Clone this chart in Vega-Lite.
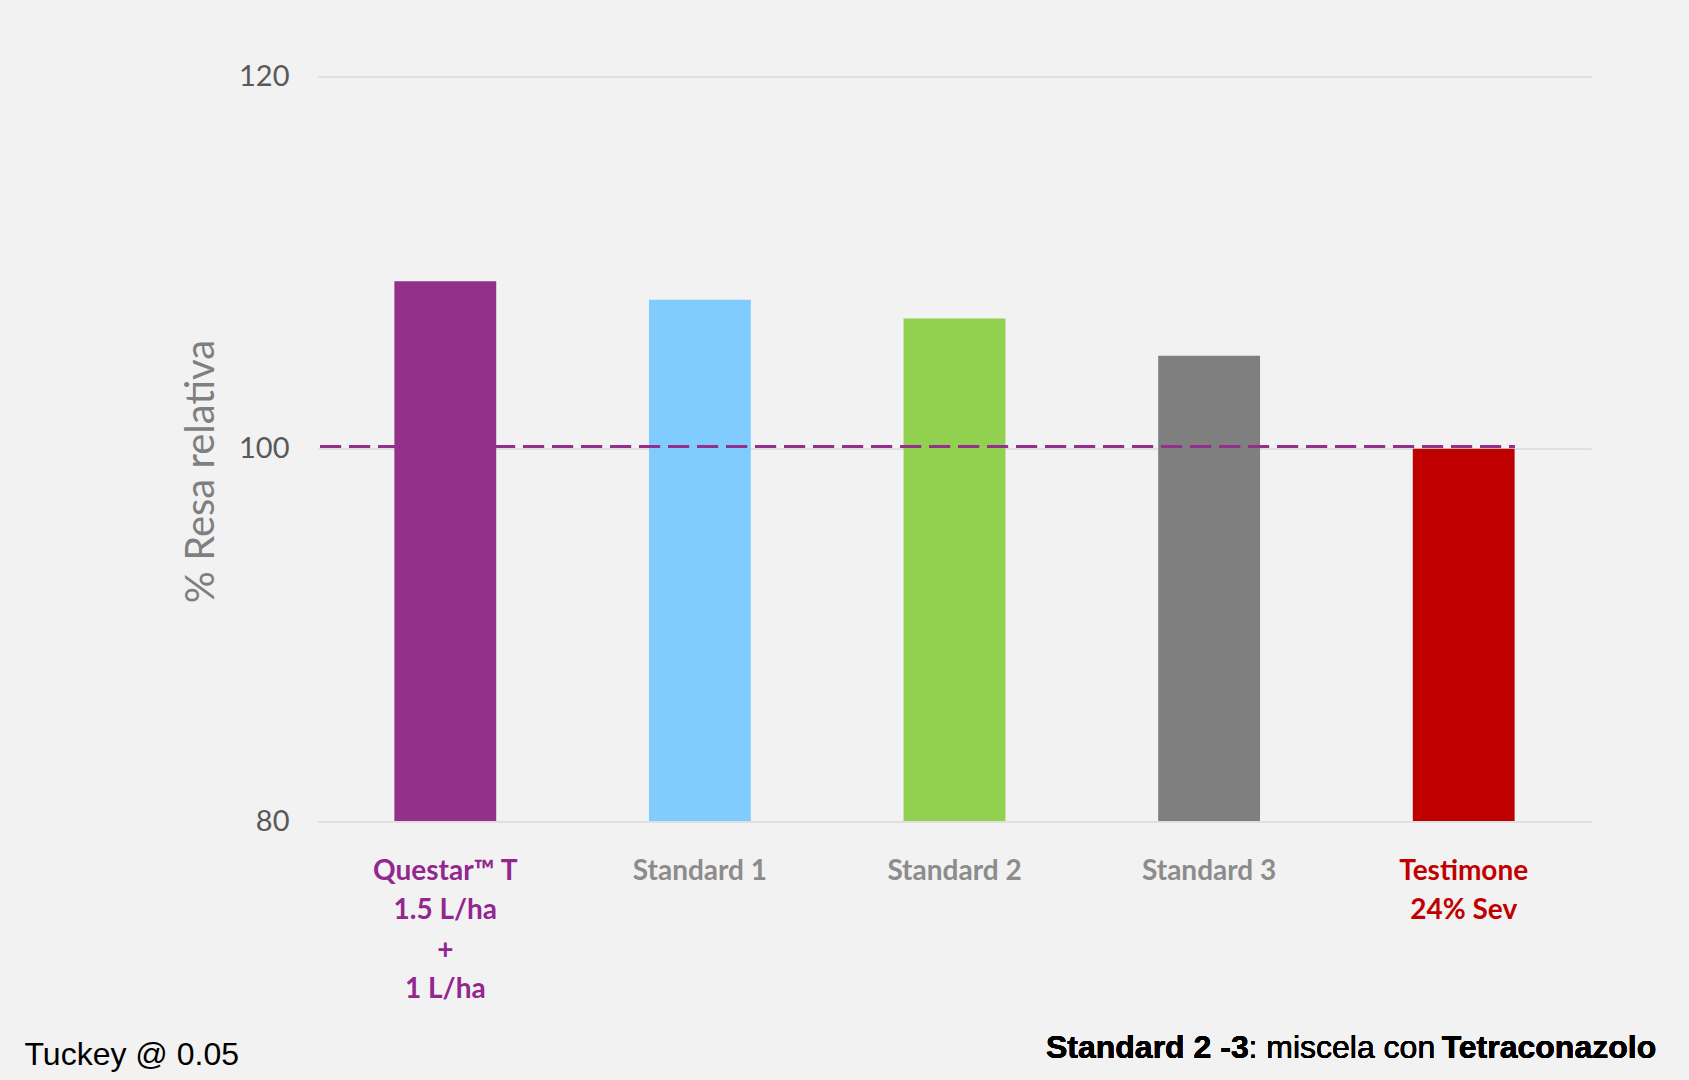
{
  "$schema": "https://vega.github.io/schema/vega-lite/v6.json",
  "width": 1273,
  "height": 744.5,
  "autosize": {"type": "none"},
  "padding": {"left": 318, "top": 76.5, "right": 98, "bottom": 259},
  "background": "#f2f2f2",
  "config": {"view": {"stroke": null}},
  "data": {
    "values": [
      {"cat": "Questar™ T|1.5 L/ha|+|1 L/ha", "resa": 109, "grp": "Questar"},
      {"cat": "Standard 1", "resa": 108, "grp": "Standard 1"},
      {"cat": "Standard 2", "resa": 107, "grp": "Standard 2"},
      {"cat": "Standard 3", "resa": 105, "grp": "Standard 3"},
      {"cat": "Testimone|24% Sev", "resa": 100, "grp": "Testimone"}
    ]
  },
  "encoding": {
    "x": {
      "field": "cat",
      "type": "nominal",
      "sort": null,
      "scale": {"paddingInner": 0.6, "paddingOuter": 0.3},
      "axis": {
        "title": "Tuckey @ 0.05",
        "titleFont": "Liberation Sans",
        "titleFontSize": 32,
        "titleFontWeight": "normal",
        "titleColor": "#000000",
        "titleX": -294,
        "titleY": 243,
        "titleAlign": "left",
        "titleBaseline": "alphabetic",
        "labelAngle": 0,
        "labelExpr": "split(datum.label, '|')",
        "labelFont": "Lato",
        "labelFontWeight": "bold",
        "labelFontSize": 28,
        "labelLineHeight": 39.5,
        "labelPadding": 36,
        "labelLimit": 0,
        "labelBaseline": "top",
        "labelColor": {
          "condition": [
            {"test": "indexof(datum.value, 'Questar') >= 0", "value": "#92278f"},
            {"test": "indexof(datum.value, 'Testimone') >= 0", "value": "#c00000"}
          ],
          "value": "#8c8c8c"
        },
        "domain": false,
        "ticks": false,
        "grid": false
      }
    }
  },
  "layer": [
    {
      "mark": {"type": "bar"},
      "encoding": {
        "y": {
          "field": "resa",
          "type": "quantitative",
          "scale": {"domain": [80, 120], "zero": false, "nice": false},
          "axis": {
            "title": "% Resa relativa",
            "titleFont": "Lato",
            "titleFontSize": 40,
            "titleFontWeight": "normal",
            "titleColor": "#7f7f7f",
            "titleAngle": -90,
            "titleX": -105,
            "titleY": 394.5,
            "titleAlign": "center",
            "titleBaseline": "alphabetic",
            "values": [80, 100, 120],
            "labelFont": "Lato",
            "labelFontSize": 29,
            "labelColor": "#595959",
            "labelPadding": 29,
            "domain": false,
            "ticks": false,
            "grid": true,
            "gridColor": "#d9d9d9",
            "gridWidth": 1.5
          }
        },
        "y2": {"datum": 80},
        "color": {
          "field": "grp",
          "type": "nominal",
          "scale": {
            "domain": ["Questar", "Standard 1", "Standard 2", "Standard 3", "Testimone"],
            "range": ["#92308a", "#80ccff", "#92d050", "#7f7f7f", "#c00000"]
          },
          "legend": null
        }
      }
    },
    {
      "mark": {"type": "rule", "color": "#93308b", "strokeWidth": 3, "strokeDash": [21, 8]},
      "encoding": {
        "x": {"datum": "Questar™ T|1.5 L/ha|+|1 L/ha", "bandPosition": -0.73},
        "x2": {"datum": "Testimone|24% Sev", "bandPosition": 1},
        "y": {"datum": 100.12}
      }
    },
    {
      "mark": {"type": "text", "font": "Liberation Sans", "fontSize": 32, "fontWeight": "bold", "align": "right", "baseline": "alphabetic", "color": "#000000", "clip": false},
      "encoding": {
        "x": {"datum": "Testimone|24% Sev", "bandPosition": 2.39},
        "y": {"datum": 67.27},
        "text": {"value": "Tetraconazolo"}
      }
    },
    {
      "mark": {"type": "text", "font": "Liberation Sans", "fontSize": 32, "fontWeight": "normal", "align": "right", "baseline": "alphabetic", "color": "#000000", "dx": -221, "clip": false},
      "encoding": {
        "x": {"datum": "Testimone|24% Sev", "bandPosition": 2.39},
        "y": {"datum": 67.27},
        "text": {"value": ": miscela con"}
      }
    },
    {
      "mark": {"type": "text", "font": "Liberation Sans", "fontSize": 32, "fontWeight": "bold", "align": "right", "baseline": "alphabetic", "color": "#000000", "dx": -407.5, "clip": false},
      "encoding": {
        "x": {"datum": "Testimone|24% Sev", "bandPosition": 2.39},
        "y": {"datum": 67.27},
        "text": {"value": "Standard 2 -3"}
      }
    }
  ]
}
